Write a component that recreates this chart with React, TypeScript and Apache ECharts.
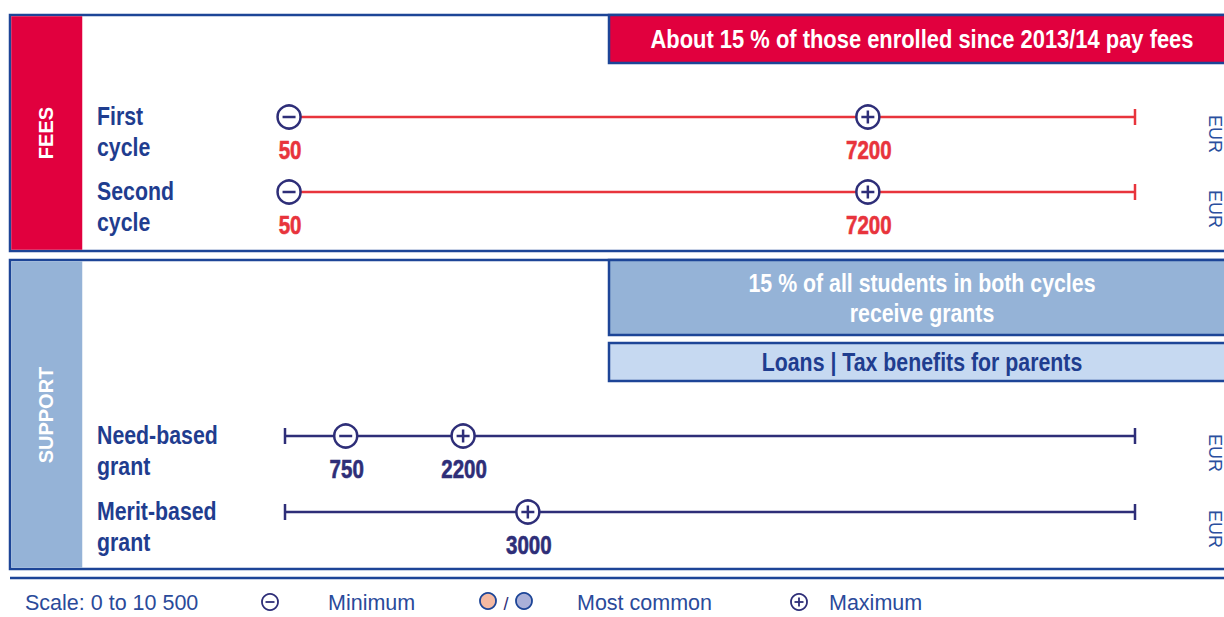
import React, { useEffect, useRef } from "react";
import * as echarts from "echarts";

// ---- data ----
const SCALE_MIN = 0;
const SCALE_MAX = 10500;
const feeCategories = ["First\ncycle", "Second\ncycle"];
const feeMinimum = [50, 50];
const feeMaximum = [7200, 7200];
const supportCategories = ["Need-based\ngrant", "Merit-based\ngrant"];
const supportMinimum: (number | null)[] = [750, null];
const supportMaximum = [2200, 3000];
const feesBanner = "About 15 % of those enrolled since 2013/14 pay fees";
const supportBanner = "15 % of all students in both cycles\nreceive grants";
const supportBanner2 = "Loans | Tax benefits for parents";
const legendScale = "Scale: 0 to 10 500";
const legendLabels = ["Minimum", "Most common", "Maximum"];
const unitLabel = "EUR";

// ---- style ----
const BLUE = "#1d4597";
const RED = "#e1003e";
const RED_LINE = "#e8343c";
const NAVY = "#2e2e78";
const TEXT_BLUE = "#1f3d8f";
const SUPPORT_BLUE = "#95b3d7";
const LIGHT_BLUE = "#c6d9f1";
const SANS = "'Liberation Sans', Arial, sans-serif";
const NARROW_SCALE = 0.82;
const BANNER_SCALE = 0.843;

const rowY = [117, 192, 436, 512];
const GRID_LEFT = 285;
const GRID_WIDTH = 850;

function barSeries(idx: number, color: string) {
  return {
    type: "custom",
    xAxisIndex: idx,
    yAxisIndex: idx,
    clip: false,
    z: 2,
    data: [[SCALE_MIN, SCALE_MAX]],
    renderItem: (_p: any, api: any) => {
      const a = api.coord([api.value(0), 0]);
      const b = api.coord([api.value(1), 0]);
      const st = { stroke: color, lineWidth: 2.5 };
      return {
        type: "group",
        children: [
          { type: "line", shape: { x1: a[0], y1: a[1], x2: b[0], y2: b[1] }, style: st },
          { type: "line", shape: { x1: a[0], y1: a[1] - 8, x2: a[0], y2: a[1] + 8 }, style: st },
          { type: "line", shape: { x1: b[0], y1: b[1] - 8, x2: b[0], y2: b[1] + 8 }, style: st },
        ],
      };
    },
  };
}

function markerSeries(idx: number, minV: number | null, maxV: number | null, labelColor: string) {
  const data: number[][] = [];
  if (minV != null) data.push([minV, 0]);
  if (maxV != null) data.push([maxV, 1]);
  return {
    type: "custom",
    xAxisIndex: idx,
    yAxisIndex: idx,
    clip: false,
    z: 3,
    data,
    renderItem: (_p: any, api: any) => {
      const v = api.value(0);
      const kind = api.value(1);
      const c = api.coord([v, 0]);
      const gl = { stroke: NAVY, lineWidth: 2.5 };
      const children: any[] = [
        { type: "circle", shape: { cx: c[0], cy: c[1], r: 11.5 }, style: { fill: "#fff", stroke: NAVY, lineWidth: 2.5 } },
        { type: "line", shape: { x1: c[0] - 6.5, y1: c[1], x2: c[0] + 6.5, y2: c[1] }, style: gl },
      ];
      if (kind === 1) {
        children.push({ type: "line", shape: { x1: c[0], y1: c[1] - 6.5, x2: c[0], y2: c[1] + 6.5 }, style: gl });
      }
      children.push({
        type: "text",
        x: c[0] + 1,
        y: c[1] + 33,
        scaleX: NARROW_SCALE,
        style: {
          text: String(v),
          fill: labelColor,
          stroke: labelColor,
          lineWidth: 0.6,
          font: `bold 25px ${SANS}`,
          align: "center",
          verticalAlign: "middle",
        },
      });
      return { type: "group", children };
    },
  };
}

function rowLabel(text: string, y: number) {
  const lines = text.split("\n");
  return lines.map((t, k) => ({
    type: "text",
    x: 97,
    y: y + k * 31,
    scaleX: NARROW_SCALE,
    style: { text: t, fill: TEXT_BLUE, font: `bold 26px ${SANS}`, align: "left", verticalAlign: "middle" },
  }));
}

function eur(y: number) {
  return {
    type: "text",
    x: 1215,
    y: y + 17,
    rotation: -Math.PI / 2,
    style: { text: unitLabel, fill: "#2a4f9e", font: `18px ${SANS}`, align: "center", verticalAlign: "middle" },
  };
}

export default function App() {
  const ref = useRef<HTMLDivElement>(null);
  useEffect(() => {
    document.body.style.margin = "0";
    const chart = echarts.init(ref.current!, null, { renderer: "svg" });
    const grids = rowY.map((y) => ({ left: GRID_LEFT, width: GRID_WIDTH, top: y - 20, height: 40 }));
    const xAxes = rowY.map((_, i) => ({ gridIndex: i, type: "value", min: SCALE_MIN, max: SCALE_MAX, show: false }));
    const yAxes = rowY.map((_, i) => ({ gridIndex: i, type: "value", min: -1, max: 1, show: false }));

    const series: any[] = [];
    feeCategories.forEach((_, i) => {
      series.push(barSeries(i, RED_LINE));
      series.push(markerSeries(i, feeMinimum[i], feeMaximum[i], RED_LINE));
    });
    supportCategories.forEach((_, i) => {
      series.push(barSeries(i + 2, NAVY));
      series.push(markerSeries(i + 2, supportMinimum[i], supportMaximum[i], NAVY));
    });

    const bannerFont = `bold 26px ${SANS}`;
    const legendFont = `21.5px ${SANS}`;
    const LEG = "#2a4a9a";
    const elements: any[] = [
      // fees panel
      { type: "rect", shape: { x: 10, y: 15, width: 1230, height: 236 }, style: { fill: "#fff", stroke: BLUE, lineWidth: 2.5 }, z: -10 },
      { type: "rect", shape: { x: 11.25, y: 16.25, width: 71, height: 233.5 }, style: { fill: RED }, z: -9 },
      { type: "rect", shape: { x: 609, y: 15, width: 630, height: 48 }, style: { fill: RED, stroke: BLUE, lineWidth: 2.5 }, z: -9 },
      { type: "text", x: 922, y: 39, scaleX: BANNER_SCALE, style: { text: feesBanner, fill: "#fff", font: bannerFont, align: "center", verticalAlign: "middle" } },
      { type: "text", x: 46, y: 133, rotation: Math.PI / 2, style: { text: "FEES", fill: "#fff", font: `bold 20px ${SANS}`, align: "center", verticalAlign: "middle" } },
      // support panel
      { type: "rect", shape: { x: 10, y: 260, width: 1230, height: 309 }, style: { fill: "#fff", stroke: BLUE, lineWidth: 2.5 }, z: -10 },
      { type: "rect", shape: { x: 11.25, y: 261.25, width: 71, height: 306.5 }, style: { fill: SUPPORT_BLUE }, z: -9 },
      { type: "rect", shape: { x: 609, y: 260, width: 630, height: 75 }, style: { fill: SUPPORT_BLUE, stroke: BLUE, lineWidth: 2.5 }, z: -9 },
      { type: "text", x: 922, y: 298, scaleX: NARROW_SCALE, style: { text: supportBanner, fill: "#fff", font: bannerFont, align: "center", verticalAlign: "middle", lineHeight: 30 } },
      { type: "rect", shape: { x: 609, y: 343, width: 630, height: 38 }, style: { fill: LIGHT_BLUE, stroke: BLUE, lineWidth: 2.5 }, z: -9 },
      { type: "text", x: 922, y: 362, scaleX: NARROW_SCALE, style: { text: supportBanner2, fill: TEXT_BLUE, font: bannerFont, align: "center", verticalAlign: "middle" } },
      { type: "text", x: 46, y: 415, rotation: Math.PI / 2, style: { text: "SUPPORT", fill: "#fff", font: `bold 20px ${SANS}`, align: "center", verticalAlign: "middle" } },
      // bottom rule
      { type: "line", shape: { x1: 10, y1: 578, x2: 1230, y2: 578 }, style: { stroke: BLUE, lineWidth: 2.5 } },
      // legend
      { type: "text", x: 25, y: 603, style: { text: legendScale, fill: LEG, font: legendFont, align: "left", verticalAlign: "middle" } },
      { type: "circle", shape: { cx: 270, cy: 602, r: 8 }, style: { fill: "#fff", stroke: NAVY, lineWidth: 1.8 } },
      { type: "line", shape: { x1: 265.5, y1: 602, x2: 274.5, y2: 602 }, style: { stroke: NAVY, lineWidth: 1.8 } },
      { type: "text", x: 328, y: 603, style: { text: legendLabels[0], fill: LEG, font: legendFont, align: "left", verticalAlign: "middle" } },
      { type: "circle", shape: { cx: 488, cy: 601, r: 8 }, style: { fill: "#f4b9a2", stroke: BLUE, lineWidth: 1.8 } },
      { type: "text", x: 506, y: 604, style: { text: "/", fill: NAVY, font: `18px ${SANS}`, align: "center", verticalAlign: "middle" } },
      { type: "circle", shape: { cx: 524, cy: 601, r: 8 }, style: { fill: "#aab0d8", stroke: BLUE, lineWidth: 1.8 } },
      { type: "text", x: 577, y: 603, style: { text: legendLabels[1], fill: LEG, font: legendFont, align: "left", verticalAlign: "middle" } },
      { type: "circle", shape: { cx: 799, cy: 602, r: 8 }, style: { fill: "#fff", stroke: NAVY, lineWidth: 1.8 } },
      { type: "line", shape: { x1: 794.5, y1: 602, x2: 803.5, y2: 602 }, style: { stroke: NAVY, lineWidth: 1.8 } },
      { type: "line", shape: { x1: 799, y1: 597.5, x2: 799, y2: 606.5 }, style: { stroke: NAVY, lineWidth: 1.8 } },
      { type: "text", x: 829, y: 603, style: { text: legendLabels[2], fill: LEG, font: legendFont, align: "left", verticalAlign: "middle" } },
    ];
    feeCategories.forEach((c, i) => {
      elements.push(...rowLabel(c, rowY[i] - 1));
      elements.push(eur(rowY[i]));
    });
    supportCategories.forEach((c, i) => {
      elements.push(...rowLabel(c, rowY[i + 2] - 1));
      elements.push(eur(rowY[i + 2]));
    });

    chart.setOption({
      animation: false,
      grid: grids,
      xAxis: xAxes,
      yAxis: yAxes,
      graphic: { elements },
      series,
    });
    return () => chart.dispose();
  }, []);
  return <div ref={ref} style={{ position: "absolute", left: 0, top: 0, width: 1224, height: 617, background: "#fff" }} />;
}
